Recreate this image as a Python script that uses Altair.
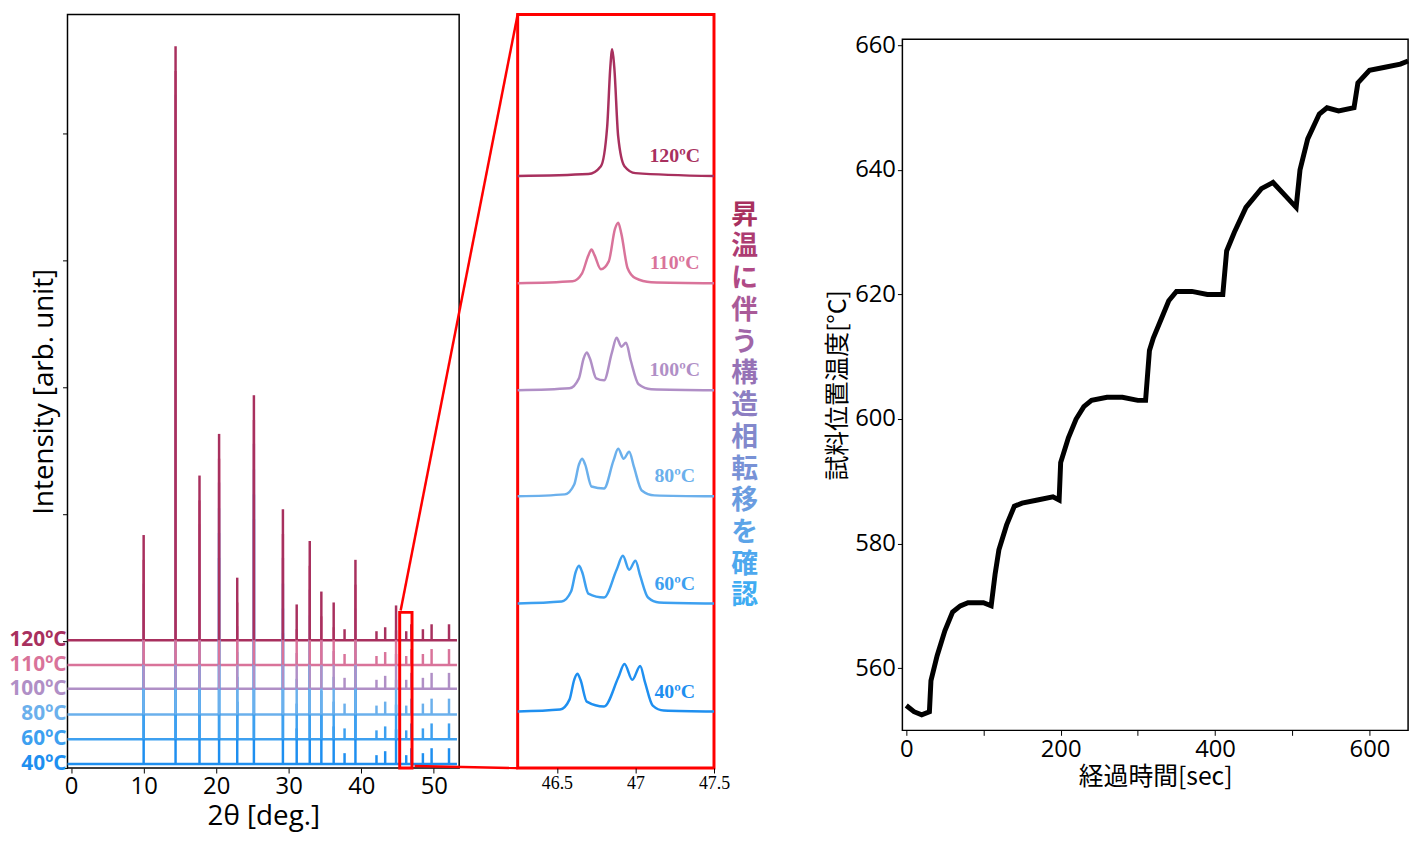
import altair as alt
import pandas as pd

# ---- XRD (left) ----
temps = ["40ºC", "60ºC", "80ºC", "100ºC", "110ºC", "120ºC"]
colors = ["#1E8FF0", "#3DA0F0", "#6BB0EC", "#B08FC6", "#D9739A", "#A8305E"]
baselines = [4, 29, 54, 80, 104, 129]
peak_pos = [10.0, 14.4, 17.7, 20.4, 22.9, 25.2, 29.2, 31.1, 32.9, 34.5, 36.2,
            37.7, 39.2, 42.1, 43.3, 44.8, 46.2, 46.9, 48.5, 49.7, 52.1]
peak_h = [106, 599, 166, 208, 63, 247, 132, 36, 100, 49, 38,
          11, 81, 9, 13, 35, 9, 16, 11, 16, 16]

# ---- zoom (middle) ----
zoom_base = [57, 166, 274, 381, 489, 597]
zoom_x = {
    "120ºC": [46.25, 46.7, 46.78, 46.82, 46.84, 46.852, 46.865, 46.89, 46.93, 47.0, 47.5],
    "110ºC": [46.25, 46.6, 46.66, 46.7, 46.72, 46.74, 46.78, 46.83, 46.87, 46.89, 46.91, 46.95, 47.0, 47.1, 47.5],
    "100ºC": [46.25, 46.58, 46.64, 46.67, 46.69, 46.71, 46.75, 46.8, 46.85, 46.88, 46.91, 46.94, 46.97, 47.02, 47.1, 47.5],
    "80ºC": [46.25, 46.55, 46.61, 46.64, 46.66, 46.68, 46.72, 46.8, 46.86, 46.89, 46.925, 46.96, 46.99, 47.04, 47.12, 47.5],
    "60ºC": [46.25, 46.53, 46.59, 46.62, 46.64, 46.66, 46.7, 46.8, 46.88, 46.92, 46.96, 47.0, 47.03, 47.08, 47.15, 47.5],
    "40ºC": [46.25, 46.52, 46.58, 46.61, 46.63, 46.65, 46.69, 46.8, 46.89, 46.93, 46.98, 47.03, 47.06, 47.11, 47.18, 47.5],
}
zoom_y = {
    "120ºC": [0, 2, 10, 50, 110, 128, 110, 40, 10, 3, 0],
    "110ºC": [0, 2, 10, 28, 34, 28, 14, 22, 55, 61, 50, 15, 5, 1, 0],
    "100ºC": [0, 2, 12, 32, 38, 32, 12, 10, 38, 53, 44, 48, 30, 6, 1, 0],
    "80ºC": [0, 2, 12, 32, 38, 32, 10, 8, 36, 48, 38, 45, 30, 6, 1, 0],
    "60ºC": [0, 2, 12, 32, 38, 32, 10, 6, 34, 48, 34, 43, 28, 6, 1, 0],
    "40ºC": [0, 2, 12, 32, 38, 32, 10, 5, 34, 48, 32, 46, 30, 6, 1, 0],
}
side_chars = list("昇温に伴う構造相転移を確認")
side_colors = ["#A8305E", "#AD3C72", "#B04A86", "#A95A98", "#A066A8", "#9672B6", "#8C7EC2",
               "#8288CC", "#7892D6", "#6A9CE0", "#5CA4E8", "#4EA8EE", "#40ACF2"]

# ---- temperature (right) ----
t_sec = [0, 10, 20, 30, 32, 40, 50, 60, 70, 80, 100, 110, 115, 120, 130, 140, 150, 170, 190, 198,
         200, 210, 220, 230, 240, 260, 280, 300, 310, 315, 320, 330, 340, 350, 370, 390, 410, 415,
         425, 440, 460, 475, 490, 505, 510, 520, 535, 545, 560, 580, 585, 600, 620, 640, 650]
t_temp = [554, 553, 552.5, 553, 558, 562, 566, 569, 570, 570.5, 570.5, 570, 575, 579, 583, 586, 586.5, 587, 587.5, 587,
          593, 597, 600, 602, 603, 603.5, 603.5, 603, 603, 611, 613, 616, 619, 620.5, 620.5, 620, 620, 627,
          630, 634, 637, 638, 636, 634, 640, 645, 649, 650, 649.5, 650, 654, 656, 656.5, 657, 657.5]

rules = []
for t, b in zip(temps, baselines):
    for p, h in zip(peak_pos, peak_h):
        rules.append({"temp": t, "x": p, "y": b, "y2": b + h})
peaks = pd.DataFrame(rules)
base = pd.DataFrame({"temp": temps, "x": -0.5, "x2": 53.2, "y": baselines})

cscale = alt.Scale(domain=temps, range=colors)
xs = alt.Scale(domain=[-0.5, 53.5], nice=False)
ys = alt.Scale(domain=[0, 760], nice=False)

base_lines = alt.Chart(base).mark_rule(strokeWidth=2.5).encode(
    x=alt.X("x:Q", scale=xs, axis=alt.Axis(values=[0, 10, 20, 30, 40, 50], title="2θ [deg.]",
                                          grid=False, labelFontSize=24, titleFontSize=28,
                                          tickSize=5, labelPadding=2, domain=False)),
    x2="x2", y=alt.Y("y:Q", scale=ys, axis=alt.Axis(labels=False, title="Intensity [arb. unit]",
                                                    grid=False, titleFontSize=28, tickSize=5,
                                                    values=[0, 128, 256, 384, 512, 640], domain=False)),
    color=alt.Color("temp:N", scale=cscale, legend=None),
)
peak_rules = alt.Chart(peaks).mark_rule(strokeWidth=2.5).encode(
    x="x:Q", y="y:Q", y2="y2", color=alt.Color("temp:N", scale=cscale, legend=None),
    order=alt.Order("y:Q"),
)
temp_labels = alt.Chart(base).mark_text(align="right", baseline="middle", fontSize=21,
                                        fontWeight="bold", font="Open Sans", dx=-1).encode(
    x=alt.value(0), y=alt.Y("y:Q", scale=ys),
    text="temp:N", color=alt.Color("temp:N", scale=cscale, legend=None),
)
box = alt.Chart(pd.DataFrame({"x": [45.3], "x2": [47.0], "y": [0], "y2": [157]})).mark_rect(
    fill=None, stroke="red", strokeWidth=3).encode(x="x:Q", x2="x2", y="y:Q", y2="y2")

left = (base_lines + peak_rules + temp_labels + box).properties(
    width=395, height=760, view=alt.ViewBackground(stroke="black", strokeWidth=1.5))

zrows = []
for t, b in zip(temps, zoom_base):
    for i, (xv, yv) in enumerate(zip(zoom_x[t], zoom_y[t])):
        zrows.append({"temp": t, "x": xv, "y": b + yv, "i": i})
zdf = pd.DataFrame(zrows)
zlab = pd.DataFrame({"temp": temps, "x": 47.25, "y": [b + 20 for b in zoom_base]})
zxs = alt.Scale(domain=[46.25, 47.5], nice=False)

zlines = alt.Chart(zdf).mark_line(interpolate="monotone", strokeWidth=2.5).encode(
    x=alt.X("x:Q", scale=zxs, axis=alt.Axis(values=[46.5, 47, 47.5], title=None, grid=False,
                                           labelFont="Liberation Serif", labelFontSize=18,
                                           labelExpr="datum.value == 47 ? '47' : datum.label",
                                           tickSize=5, domain=False, labelFlush=False)),
    y=alt.Y("y:Q", scale=ys, axis=alt.Axis(labels=False, title=None, grid=False, ticks=False,
                                           domain=False)),
    color=alt.Color("temp:N", scale=cscale, legend=None),
    detail="temp:N", order="i:Q",
)
ztext = alt.Chart(zlab).mark_text(font="Liberation Serif", fontWeight="bold", fontSize=20).encode(
    x="x:Q", y="y:Q", text="temp:N", color=alt.Color("temp:N", scale=cscale, legend=None))
side = pd.DataFrame({"c": side_chars, "col": side_colors,
                     "y": [772 - (215 + 32 * i) for i in range(len(side_chars))]})
side_text = alt.Chart(side).mark_text(font="Noto Sans CJK JP", fontWeight="bold", fontSize=27).encode(
    x=alt.value(229), y="y:Q", text="c:N", color=alt.Color("col:N", scale=None))
conn1 = alt.Chart(base.head(1)).mark_rule(color="red", strokeWidth=2.5).encode(
    x=alt.value(-118), y=alt.value(601), x2=alt.value(0), y2=alt.value(0))
conn2 = alt.Chart(base.head(1)).mark_rule(color="red", strokeWidth=2.5).encode(
    x=alt.value(-104), y=alt.value(758), x2=alt.value(0), y2=alt.value(760))

middle = (conn1 + conn2 + zlines + ztext + side_text).properties(
    width=198, height=760, view=alt.ViewBackground(stroke="red", strokeWidth=3))

tdf = pd.DataFrame({"t": t_sec, "temp": t_temp})
frame = alt.Chart(base.head(1)).mark_rect(fill=None, stroke="black", strokeWidth=1.5).encode(
    x=alt.value(0), x2=alt.value(510), y=alt.value(25), y2=alt.value(722))
right_line = alt.Chart(tdf).mark_line(color="black", strokeWidth=5).encode(
    x=alt.X("t:Q", scale=alt.Scale(domain=[-5, 650], nice=False),
            axis=alt.Axis(values=[0, 100, 200, 300, 400, 500, 600], labelExpr="datum.value % 200 == 0 ? datum.label : ''",
                          title="経過時間[sec]", titleFont="Noto Sans CJK JP", titleFontWeight="normal",
                          titleFontSize=25, labelFontSize=24, grid=False, tickSize=5, domain=False)),
    y=alt.Y("temp:Q", scale=alt.Scale(domain=[550, 661], nice=False, range=[722, 25]),
            axis=alt.Axis(values=[560, 580, 600, 620, 640, 660], title="試料位置温度[°C]",
                          titleFont="Noto Sans CJK JP", titleFontWeight="normal", titleFontSize=25,
                          labelFontSize=24, grid=False, tickSize=5, domain=False)),
)
right = (frame + right_line).properties(width=510, height=722, view=alt.ViewBackground(stroke=None))

gap = alt.Chart(base.head(1)).mark_point(opacity=0).encode(
    x=alt.value(0), y=alt.value(0)).properties(width=72, height=10, view=alt.ViewBackground(stroke=None))

chart = alt.hconcat(left, middle, gap, right, spacing=59, bounds="flush").configure_axis(
    labelFont="Open Sans", titleFont="Open Sans", titleFontWeight="normal", labelColor="black",
    titleColor="black", tickColor="black",
).properties(padding={"left": 0, "top": 0, "right": 0, "bottom": 0})

chart.save("out.html", embed_options={"renderer": "svg", "actions": False})
